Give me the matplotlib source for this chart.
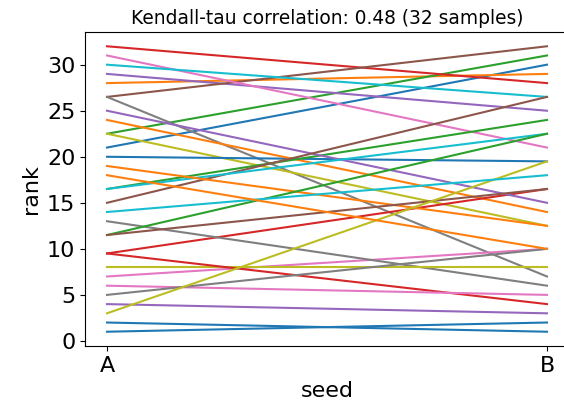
import matplotlib
matplotlib.use("Agg")
import matplotlib.pyplot as plt

# Per-sample ranks under the two seeds (ties get averaged ranks)
seeds = ["A", "B"]
rank_a = [21, 28, 22.5, 32, 29, 26.5, 31, 26.5, 22.5, 30,
          20, 24, 16.5, 9.5, 25, 15, 7, 13, 8, 16.5,
          2, 19, 11.5, 9.5, 4, 11.5, 6, 5, 3, 14,
          1, 18]
rank_b = [30, 29, 31, 28, 25, 32, 21, 7, 12.5, 26.5,
          19.5, 14, 24, 16.5, 15, 26.5, 10, 6, 8, 22.5,
          1, 12.5, 22.5, 4, 3, 16.5, 5, 10, 19.5, 18,
          2, 10]
title = "Kendall-tau correlation: 0.48 (32 samples)"

fig = plt.figure(figsize=(5.64, 4.01), dpi=100)
ax = fig.add_axes([85 / 564, 55 / 401, 484 / 564, 314 / 401])

xs = list(range(len(seeds)))
for a, b in zip(rank_a, rank_b):
    ax.plot(xs, [a, b], lw=1.5)

ax.set_xticks(xs)
ax.set_xticklabels(seeds)
ax.set_yticks([0, 5, 10, 15, 20, 25, 30])
ax.tick_params(labelsize=16)
ax.set_xlabel("seed", fontsize=16)
ax.set_ylabel("rank", fontsize=16)
ax.set_title(title, fontsize=13.4)

fig.savefig("out.png", dpi=100)
